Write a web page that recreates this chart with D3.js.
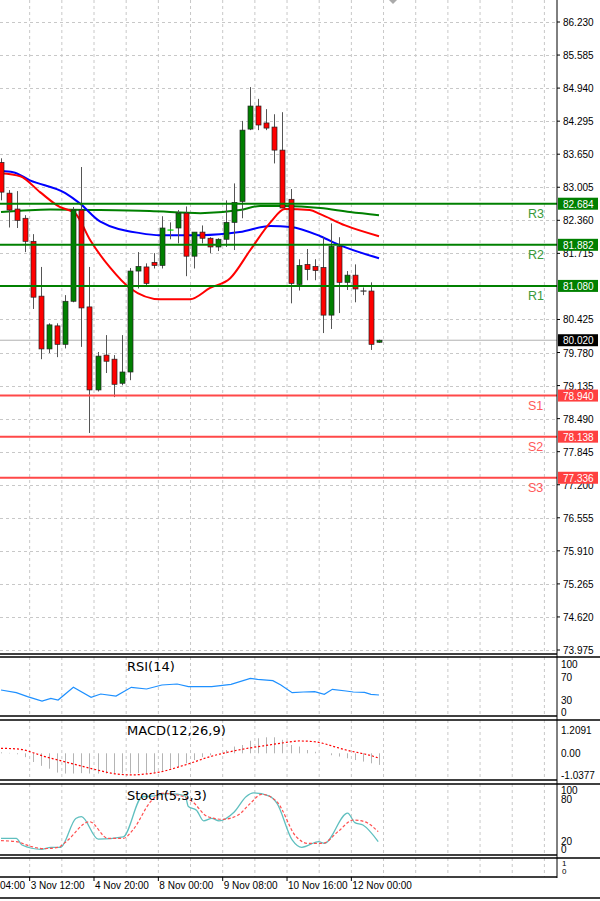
<!DOCTYPE html>
<html><head><meta charset="utf-8">
<script src="https://cdn.jsdelivr.net/npm/d3@7"></script>
<style>body{margin:0;background:#fff}svg{display:block;font-family:"DejaVu Sans",sans-serif}.ax{font-family:"Liberation Sans",Arial,sans-serif}</style>
</head><body><svg id="c" width="600" height="901"></svg>
<script>
// OHLC candles
const opens  = [83.49,82.89,82.58,82.40,81.95,80.88,79.85,80.30,79.94,80.78,82.56,80.67,79.05,79.73,79.65,79.18,79.40,81.37,81.45,81.54,81.48,82.17,82.21,82.50,81.66,82.13,82.01,81.84,81.99,82.32,82.73,84.14,84.59,84.26,84.18,83.73,82.77,81.11,81.50,81.46,81.44,80.51,81.85,81.15,81.29,80.98,80.98,79.98];
const highs  = [83.57,82.95,82.93,82.46,82.09,81.45,80.35,80.35,80.90,82.62,83.40,81.45,79.79,80.12,79.73,80.12,81.43,81.74,81.52,81.72,82.44,82.32,82.56,82.63,82.13,82.26,82.03,82.01,82.75,83.08,84.30,84.96,84.73,84.53,84.43,84.47,82.97,81.60,81.80,81.60,82.03,82.30,82.03,81.37,81.50,81.05,81.15,80.03];
const lows   = [82.75,82.22,82.21,81.74,80.63,79.65,79.77,79.69,79.86,80.76,79.89,78.21,79.02,79.38,78.91,79.14,79.24,81.03,81.09,81.42,81.42,81.99,81.91,81.27,81.42,81.91,81.72,81.76,81.84,81.78,82.40,84.12,84.12,84.12,83.47,82.60,80.74,80.99,81.19,81.19,80.16,80.24,80.55,81.00,80.76,80.90,79.83,79.97];
const closes = [82.91,82.56,82.36,81.95,80.86,79.85,80.32,79.94,80.78,82.56,80.65,79.05,79.71,79.61,79.16,79.40,81.37,81.46,81.13,81.48,82.21,82.17,82.50,81.66,82.13,82.01,81.84,81.99,82.32,82.71,84.12,84.59,84.22,84.16,83.73,82.60,81.13,81.48,81.40,81.38,80.51,81.85,81.15,81.29,81.02,80.98,79.94,80.02];
// moving averages [index, value]
const maBlue  = [[0,83.32],[1.5,83.30],[3.6,83.14],[8,82.89],[9.8,82.69],[12.3,82.34],[17.3,82.11],[19.8,82.07],[24.8,82.07],[29.7,82.13],[33.5,82.25],[36,82.23],[39.7,82.05],[42.2,81.87],[47,81.62]];
const maRed   = [[0,83.28],[2.4,83.22],[4.85,82.91],[7.3,82.62],[9.2,82.50],[11.1,81.97],[13.6,81.43],[16,81.04],[19.8,80.82],[23.5,80.82],[26,81.04],[28.5,81.23],[31,81.78],[33.5,82.32],[35.3,82.58],[38.4,82.56],[39.7,82.48],[42.8,82.26],[47,82.05]];
const maGreen = [[0,82.52],[6.1,82.57],[12.3,82.56],[18.5,82.54],[24.8,82.50],[29.7,82.56],[32.2,82.64],[35.3,82.64],[39.7,82.60],[43.4,82.52],[47,82.46]];
// support/resistance
const levelNames  = ["R3","R2","R1","S1","S2","S3"];
const levelValues = [82.684,81.882,81.080,78.940,78.138,77.336];
const lastPrice = 80.020;
const priceTicks = [86.230,85.585,84.940,84.295,83.650,83.005,82.360,81.715,80.425,79.780,79.135,78.490,77.845,77.200,76.555,75.910,75.265,74.620,73.975];
const gridPrices = [86.230,85.585,84.940,84.295,83.650,83.005,82.360,81.715,81.070,80.425,79.780,79.135,78.490,77.845,77.200,76.555,75.910,75.265,74.620,73.975];
// indicators
const rsi = [[0,45.8],[1.9,40.3],[3.3,31.9],[5.1,22.9],[6.2,28.5],[7.1,25],[9,51.4],[11.2,30.6],[12.4,37.5],[14.3,33.3],[16.2,51.4],[18.1,47.9],[20,56.3],[21.9,58.3],[23.3,52.8],[26.2,52.8],[28.6,57.6],[31,70.1],[31.9,68],[33.8,65.3],[34.8,56.3],[36.2,40.3],[37.6,41.7],[39,42.4],[40.2,36.8],[41.2,47.2],[42.9,43.8],[43.8,41.7],[45.2,41],[46,36.8],[47,35.4]];
const macdHist = [0.05,0.02,-0.05,-0.2,-0.45,-0.65,-0.8,-1.0,-1.05,-1.05,-1.03,-1.05,-1.05,-1.05,-1.03,-1.05,-1.05,-1.03,-1.05,-1.0,-0.95,-0.78,-0.7,-0.52,-0.35,-0.2,-0.1,0.0,0.17,0.35,0.43,0.65,0.78,0.83,0.83,0.7,0.43,0.35,0.17,0.08,0.0,-0.1,-0.17,-0.26,-0.35,-0.43,-0.52,-0.6];
const macdSignal = [[0,0.26],[2.4,0.21],[4,0.03],[5.2,-0.14],[7.1,-0.35],[9.5,-0.61],[11.9,-0.86],[14.3,-1.07],[16.2,-1.12],[18.1,-1.07],[20,-0.95],[21.9,-0.73],[23.8,-0.48],[25.7,-0.21],[27.6,0],[29.5,0.17],[31.4,0.31],[33.3,0.43],[35.2,0.55],[37.1,0.64],[39,0.6],[40,0.52],[41.4,0.35],[42.9,0.17],[44.8,0],[46.2,-0.14],[47,-0.26]];
const stochK = [[0,18.5],[1.9,18.5],[2.6,7.3],[5,0],[6.2,3.4],[7.4,3.4],[9.3,52],[10,55],[12.1,17],[15.2,21],[17.6,89],[18.1,89],[21,94],[22.9,90],[23.3,72],[24.3,66],[25.2,48],[26.2,52],[27.1,48],[29,63],[30.5,89],[31.4,95],[33.3,90],[34.3,78],[36.2,16],[37.4,3.4],[39.5,13],[40.2,10],[43.1,61],[44,45],[45,41],[46.9,13]];
const stochD = [[0,14.6],[1.9,12.9],[3.8,4.5],[5.2,1.1],[7.1,3.4],[8.1,12.9],[11,46.6],[13.3,18.5],[15.2,18.5],[16.4,32.6],[18.6,80.3],[20,94.4],[22.4,89.9],[23.8,80.3],[25.7,55],[27.6,50.6],[29.5,57.9],[31,77.5],[32.4,92.7],[34.3,80.3],[36.7,21.3],[38.1,10.1],[40,10.1],[41.9,29.8],[43.8,49.4],[45.2,46.6],[46.9,29.8]];
const timeLabels = [["04:00",-4],["3 Nov 12:00",4],["4 Nov 20:00",12],["8 Nov 00:00",20],["9 Nov 08:00",28],["10 Nov 16:00",36],["12 Nov 00:00",44]];

const svg = d3.select("#c");
const AX = 557;
const x = d3.scaleLinear().domain([0,47]).range([1,379]);
const y = d3.scaleLinear().domain([73.975,86.230]).range([650,22]);
const gridX = d3.range(-4,70,4).map(i=>x(i)+0.5-4).filter(v=>v>0&&v<AX);
function panel(top,bot){
  const g = svg.append("g");
  gridX.forEach(gx=>g.append("line").attr("x1",gx).attr("x2",gx).attr("y1",top).attr("y2",bot).attr("stroke","#c8c8c8").attr("stroke-dasharray","3,3"));
  return g;
}
const clip = svg.append("defs");
function addClip(id,t,b){clip.append("clipPath").attr("id",id).append("rect").attr("x",0).attr("y",t).attr("width",AX).attr("height",b-t);}
addClip("cm",0,653);addClip("cr",657,716);addClip("cmc",720,780);addClip("cs",784,855);

const gm = panel(0,653);
gridPrices.forEach(p=>gm.append("line").attr("x1",0).attr("x2",AX).attr("y1",Math.round(y(p))+0.5).attr("y2",Math.round(y(p))+0.5).attr("stroke","#c8c8c8").attr("stroke-dasharray","3,3"));
const gc = svg.append("g").attr("clip-path","url(#cm)");
gc.append("line").attr("x1",0).attr("x2",AX).attr("y1",y(lastPrice)).attr("y2",y(lastPrice)).attr("stroke","#b0b0b0");
const line = d3.line().x(d=>x(d[0])).y(d=>y(d[1])).curve(d3.curveMonotoneX);
[[maGreen,"#008000"],[maBlue,"#0000ff"],[maRed,"#ff0000"]].forEach(([d,c])=>gc.append("path").attr("d",line(d)).attr("fill","none").attr("stroke",c).attr("stroke-width",2));
opens.forEach((o,i)=>{
  const c=closes[i], up=c>=o, cx=Math.round(x(i))+0.5;
  gc.append("line").attr("x1",cx).attr("x2",cx).attr("y1",y(highs[i])).attr("y2",y(lows[i])).attr("stroke","#555");
  const t=y(Math.max(o,c)), b=y(Math.min(o,c));
  if(b-t<1.5){gc.append("line").attr("x1",cx-3).attr("x2",cx+3).attr("y1",t).attr("y2",t).attr("stroke",i==21?"#00dd00":"#333").attr("stroke-width",1.2);}
  else gc.append("rect").attr("x",cx-2.5).attr("y",t).attr("width",5).attr("height",b-t).attr("fill",up?"#008000":"#ff0000").attr("stroke","#222").attr("stroke-width",0.7);
});
levelValues.forEach((v,i)=>{
  const res=i<3, col=res?"#008000":"#ff4848";
  gc.append("line").attr("x1",0).attr("x2",AX).attr("y1",y(v)).attr("y2",y(v)).attr("stroke",col).attr("stroke-width",2);
  svg.append("text").attr("class","ax").attr("x",528).attr("y",y(v)+14).attr("font-size",12.5).attr("fill",res?"#3a9a3a":"#ff5a5a").text(levelNames[i]);
});
svg.append("line").attr("x1",AX).attr("x2",AX).attr("y1",0).attr("y2",878).attr("stroke","#000");
priceTicks.forEach(p=>{
  svg.append("line").attr("x1",AX).attr("x2",AX+3).attr("y1",y(p)).attr("y2",y(p)).attr("stroke","#000");
  svg.append("text").attr("class","ax").attr("x",563).attr("y",y(p)+4).attr("font-size",10).text(p.toFixed(3));
});
function box(v,fill){
  svg.append("rect").attr("x",AX+1).attr("y",y(v)-6).attr("width",40).attr("height",12).attr("fill",fill);
  svg.append("text").attr("class","ax").attr("x",563).attr("y",y(v)+4).attr("font-size",10).attr("fill","#fff").text(v.toFixed(3));
}
levelValues.forEach((v,i)=>box(v,i<3?"#008000":"#ff4040"));
box(lastPrice,"#000");

const ry = d3.scaleLinear().domain([0,100]).range([712,664]);
panel(657,716);
const gr = svg.append("g").attr("clip-path","url(#cr)");
gr.append("path").attr("d",d3.line().x(d=>x(d[0])).y(d=>ry(d[1]))(rsi)).attr("fill","none").attr("stroke","#1e90ff").attr("stroke-width",1.2);
svg.append("text").attr("x",127).attr("y",671).attr("font-size",13).text("RSI(14)");
[[100,664],[70,677],[30,700],[0,712]].forEach(([t,yy])=>svg.append("text").attr("class","ax").attr("x",561).attr("y",yy+4).attr("font-size",10).text(t));

const my = d3.scaleLinear().domain([0,1.2091]).range([753.3,730]);
panel(720,780);
const gmc = svg.append("g").attr("clip-path","url(#cmc)");
macdHist.forEach((v,i)=>gmc.append("line").attr("x1",Math.round(x(i))+0.5).attr("x2",Math.round(x(i))+0.5).attr("y1",my(0)).attr("y2",my(v)).attr("stroke","#b4b4b4").attr("stroke-width",1));
gmc.append("path").attr("d",d3.line().x(d=>x(d[0])).y(d=>my(d[1])).curve(d3.curveMonotoneX)(macdSignal)).attr("fill","none").attr("stroke","#ff0000").attr("stroke-dasharray","2,2").attr("stroke-width",1.2);
svg.append("text").attr("x",127).attr("y",735).attr("font-size",13).text("MACD(12,26,9)");
[["1.2091",730],["0.00",753],["-1.0377",775]].forEach(([t,yy])=>svg.append("text").attr("class","ax").attr("x",561).attr("y",yy+4).attr("font-size",10).text(t));

const sy = d3.scaleLinear().domain([0,100]).range([849.3,790]);
panel(784,855);
const gs = svg.append("g").attr("clip-path","url(#cs)");
gs.append("path").attr("d",d3.line().x(d=>x(d[0])).y(d=>sy(d[1])).curve(d3.curveMonotoneX)(stochK)).attr("fill","none").attr("stroke","#5fbfbf").attr("stroke-width",1.3);
gs.append("path").attr("d",d3.line().x(d=>x(d[0])).y(d=>sy(d[1])).curve(d3.curveMonotoneX)(stochD)).attr("fill","none").attr("stroke","#ff5050").attr("stroke-dasharray","3,2").attr("stroke-width",1.2);
svg.append("text").attr("x",127).attr("y",800).attr("font-size",13).text("Stoch(5,3,3)");
[[100,790],[80,799],[20,841],[0,849]].forEach(([t,yy])=>svg.append("text").attr("class","ax").attr("x",561).attr("y",yy+4).attr("font-size",10).text(t));

panel(858,877);
svg.append("text").attr("class","ax").attr("x",562).attr("y",866).attr("font-size",8).text("1");
svg.append("text").attr("class","ax").attr("x",562).attr("y",874).attr("font-size",8).text("0");

[[654,657],[716,720],[780,784],[855,858],[877,877]].forEach(([a,b])=>{
  svg.append("line").attr("x1",0).attr("x2",AX).attr("y1",a).attr("y2",a).attr("stroke","#000").attr("stroke-width",1.3);
  if(b!==a) svg.append("line").attr("x1",0).attr("x2",600).attr("y1",b).attr("y2",b).attr("stroke","#000").attr("stroke-width",1.3);
});
svg.append("line").attr("x1",0).attr("x2",600).attr("y1",898).attr("y2",898).attr("stroke","#000").attr("stroke-width",1.5);

timeLabels.forEach(([t,i])=>{
  const gx=x(i)-4+0.5;
  if(gx>0) svg.append("line").attr("x1",gx).attr("x2",gx).attr("y1",877).attr("y2",881).attr("stroke","#000");
  svg.append("text").attr("class","ax").attr("x",Math.max(gx+1,0)).attr("y",889).attr("font-size",10).text(t);
});
svg.append("path").attr("d","M389,0 L397,0 L393,4 Z").attr("fill","#aaa");
</script></body></html>
